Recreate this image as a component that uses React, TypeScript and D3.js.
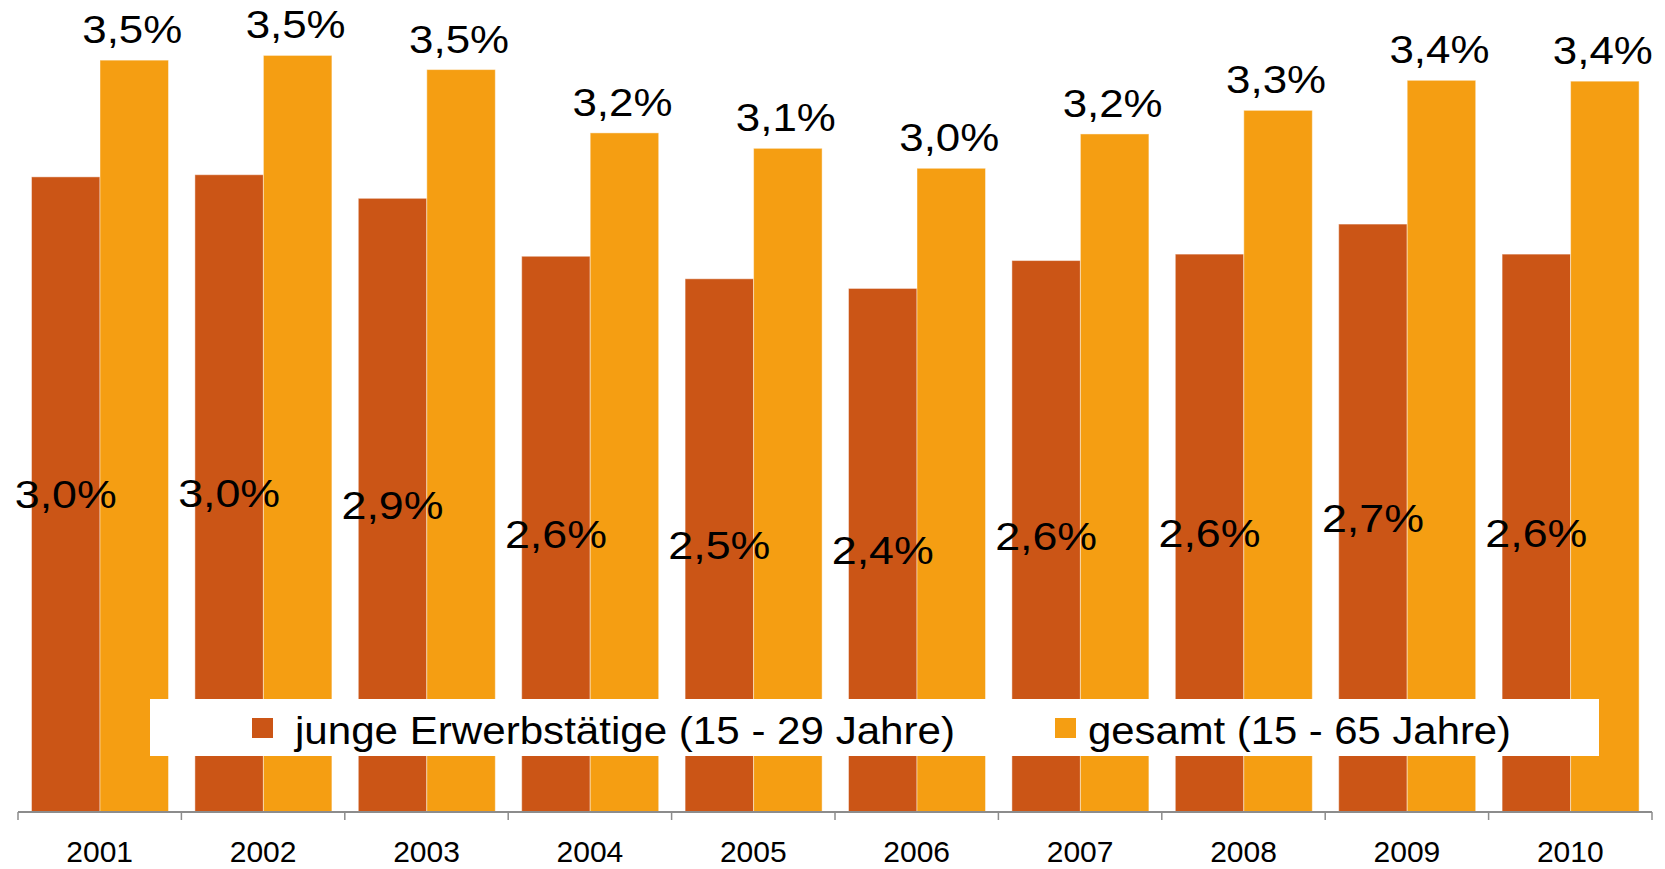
import React from "react";
import * as d3 from "d3";

const years = ["2001", "2002", "2003", "2004", "2005", "2006", "2007", "2008", "2009", "2010"];
const junge = [2.96, 2.97, 2.86, 2.59, 2.485, 2.44, 2.57, 2.6, 2.74, 2.6];
const gesamt = [3.504, 3.526, 3.46, 3.165, 3.093, 3.0, 3.16, 3.27, 3.41, 3.406];
const seriesNames = ["junge Erwerbstätige (15 - 29 Jahre)", "gesamt (15 - 65 Jahre)"];
const seriesKeys = ["junge", "gesamt"];
const colors = ["#CB5516", "#F59E12"];

const W = 1665;
const H = 869;
const FONT = "'Liberation Sans', Arial, Helvetica, sans-serif";

export default function App() {
  const x0 = d3.scaleBand<string>().domain(years).range([18, 1652]).paddingInner(0).paddingOuter(0);
  const x1 = d3.scaleBand<string>().domain(seriesKeys).range([13.5, 150.5]).padding(0);
  const y = d3.scaleLinear().domain([0, 3.5]).range([812, 61]);
  const fmt = (v: number) => d3.format(".1f")(v).replace(".", ",") + "%";
  const data = [junge, gesamt];
  const tickXs = years.map((yr) => x0(yr)!).concat([x0.range()[1]]);

  return (
    <svg
      width={W}
      height={H}
      style={{ position: "absolute", left: 0, top: 0, background: "#fff" }}
      fontFamily={FONT}
    >
      <rect x={0} y={0} width={W} height={H} fill="#fff" />
      {years.map((yr, i) => (
        <g key={yr} transform={`translate(${x0(yr)},0)`}>
          {seriesKeys.map((k, s) => {
            const v = data[s][i];
            return (
              <rect
                key={k}
                x={x1(k)!}
                y={y(v)}
                width={x1.bandwidth()}
                height={y(0) - y(v)}
                fill={colors[s]}
                stroke="rgba(255,255,255,0.45)"
                strokeWidth={1}
              />
            );
          })}
        </g>
      ))}
      {/* axis */}
      <line x1={18} x2={1652} y1={812} y2={812} stroke="#8c8c8c" strokeWidth={2} />
      {tickXs.map((tx, i) => (
        <line key={i} x1={tx} x2={tx} y1={812} y2={820} stroke="#8c8c8c" strokeWidth={1.5} />
      ))}
      {years.map((yr) => (
        <text
          key={yr}
          x={x0(yr)! + x0.bandwidth() / 2}
          y={862}
          textAnchor="middle"
          fontSize={30}
          fill="#000"
        >
          {yr}
        </text>
      ))}
      {/* legend */}
      <rect x={150} y={699} width={1449} height={57} fill="#fff" />
      <rect x={252} y={718} width={21} height={20} fill={colors[0]} />
      <text x={295} y={744} fontSize={38} textLength={660} lengthAdjust="spacingAndGlyphs" fill="#000">
        {seriesNames[0]}
      </text>
      <rect x={1055} y={718} width={21} height={20} fill={colors[1]} />
      <text x={1088} y={744} fontSize={38} textLength={423} lengthAdjust="spacingAndGlyphs" fill="#000">
        {seriesNames[1]}
      </text>
      {/* data labels */}
      {years.map((yr, i) => {
        const cxJ = x0(yr)! + x1("junge")! + x1.bandwidth() / 2;
        const cxG = x0(yr)! + x1("gesamt")! + x1.bandwidth() / 2;
        const midJ = (y(junge[i]) + y(0)) / 2;
        return (
          <g key={yr}>
            <text
              x={cxJ - 51}
              y={midJ + 14}
              fontSize={39}
              textLength={102}
              lengthAdjust="spacingAndGlyphs"
              fill="#000"
            >
              {fmt(junge[i])}
            </text>
            <text
              x={cxG - 52}
              y={y(gesamt[i]) - 17}
              fontSize={39}
              textLength={100}
              lengthAdjust="spacingAndGlyphs"
              fill="#000"
            >
              {fmt(gesamt[i])}
            </text>
          </g>
        );
      })}
    </svg>
  );
}
